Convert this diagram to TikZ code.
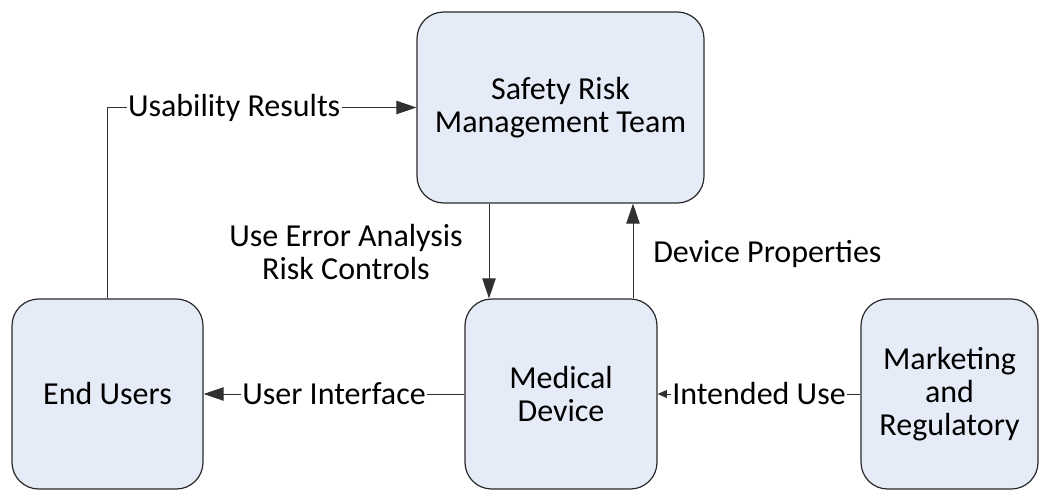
\documentclass[tikz,border=0pt]{standalone}
\usepackage{fontspec}
\setmainfont{Carlito}
\usetikzlibrary{arrows.meta}
\definecolor{boxfill}{HTML}{E5ECF7}
\definecolor{boxline}{HTML}{2A2A2A}
\definecolor{linkline}{HTML}{303030}
\tikzset{
  x=0.75pt, y=-0.75pt,
  every node/.style={font=\fontsize{24}{25}\selectfont},
  block/.style={draw=boxline, line width=0.9pt, fill=boxfill, rounded corners=20pt,
    align=center, inner sep=0pt},
  link/.style={draw=linkline, line width=0.75pt, -{Triangle[length=15pt,width=10pt]}},
  smalllink/.style={draw=linkline, line width=0.75pt, -{Triangle[length=7pt,width=6pt]}},
  lbl/.style={fill=white, inner sep=1pt},
}
\begin{document}
\begin{tikzpicture}
\useasboundingbox (0,0) rectangle (1041,491);
% boxes
\node[block, minimum width=215.25pt, minimum height=143.25pt] (srm) at (560.5,107.5) {Safety Risk\\Management Team};
\node[block, minimum width=143.25pt, minimum height=142.5pt] (eu) at (107.5,394) {End Users};
\node[block, minimum width=144pt, minimum height=142.5pt] (md) at (561,394) {Medical\\Device};
\node[block, minimum width=132.75pt, minimum height=142.5pt] (mr) at (949.5,394) {Marketing\\and\\Regulatory};

% connectors
\draw[link] (eu.north) |- node[lbl, pos=0.705] {Usability Results} (srm.west);
\draw[link] (489,0 |- srm.south) -- (489,0 |- md.north);
\draw[link] (633,0 |- md.north) -- (633,0 |- srm.south);
\draw[link] (md.west) -- node[lbl] {User Interface} (eu.east);
\draw[smalllink] (mr.west) -- node[lbl] {Intended Use} (md.east);

% free labels
\node[align=center, anchor=base, inner sep=0pt] (uea) at (346,280) {Use Error Analysis\\Risk Controls};
\node[anchor=base west, inner sep=0pt] (dp) at (653,263) {Device Properties};
\end{tikzpicture}
\end{document}
